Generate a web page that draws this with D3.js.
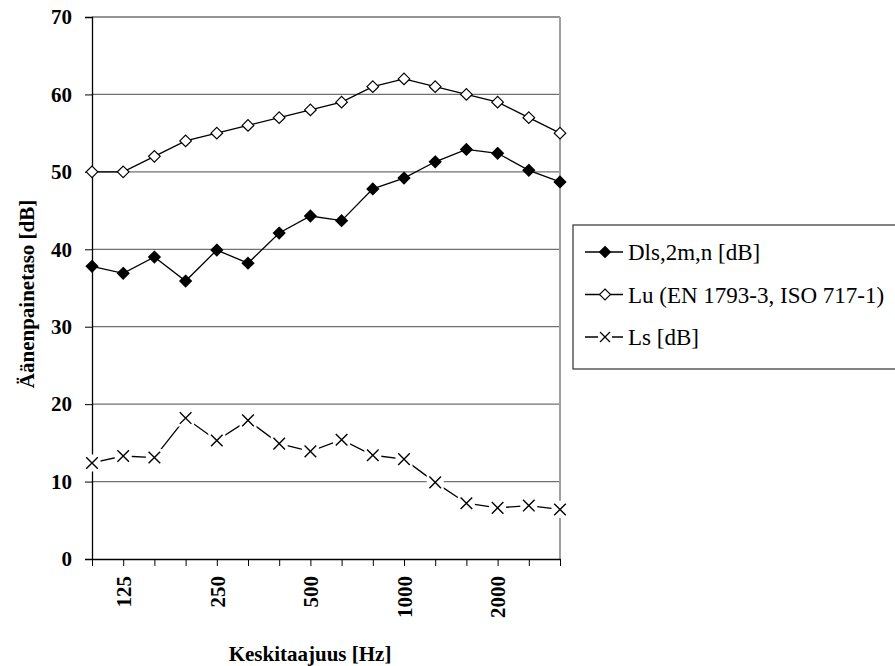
<!DOCTYPE html>
<html>
<head>
<meta charset="utf-8">
<script src="https://cdn.jsdelivr.net/npm/d3@7"></script>
<style>
  body { margin: 0; background: #fff; }
  text { font-family: "Liberation Serif", "Times New Roman", serif; }
</style>
</head>
<body>
<div id="svg-container"></div>
<script>
// data
const freqs = ['100', '125', '160', '200', '250', '315', '400', '500', '630', '800', '1000', '1250', '1600', '2000', '2500', '3150']
const tickLabels = ['125', '250', '500', '1000', '2000']
const dls = [37.8, 36.9, 39.0, 35.9, 39.9, 38.2, 42.1, 44.3, 43.7, 47.8, 49.2, 51.3, 52.9, 52.4, 50.2, 48.7]
const lu = [50, 50, 52, 54, 55, 56, 57, 58, 59, 61, 62, 61, 60, 59, 57, 55]
const ls = [12.4, 13.3, 13.1, 18.2, 15.3, 17.9, 14.9, 13.9, 15.4, 13.4, 12.9, 9.9, 7.2, 6.6, 6.9, 6.4]
const yTicks = [0, 10, 20, 30, 40, 50, 60, 70]
const seriesNames = ['Dls,2m,n [dB]', 'Lu (EN 1793-3, ISO 717-1)', 'Ls [dB]']

const serif = '"Liberation Serif", "Times New Roman", serif'

// dimensions
const dim = {
    width: 468,
    height: 542,
    margin: { top: 17, left: 92 }
}

const svg = d3.select("#svg-container")
    .append("svg")
        .attr("width", 895)
        .attr("height", 666)
        .attr('font-family', serif)

const g = svg.append('g')
    .attr("transform", `translate(${dim.margin.left}, ${dim.margin.top})`)

// scales
const xScale = d3.scalePoint()
    .domain(freqs)
    .range([0, dim.width])

const yScale = d3.scaleLinear()
    .domain([0, 70])
    .range([dim.height, 0])

// gridlines
g.append('g')
    .selectAll('line')
    .data(yTicks.filter(d => d > 0))
    .join('line')
        .attr('x1', 0)
        .attr('x2', dim.width)
        .attr('y1', d => yScale(d))
        .attr('y2', d => yScale(d))
        .attr('stroke', '#707070')
        .attr('stroke-width', 1.3)

// right border
g.append('line')
    .attr('x1', dim.width).attr('x2', dim.width)
    .attr('y1', 0).attr('y2', dim.height)
    .attr('stroke', '#a0a0a0')
    .attr('stroke-width', 2)

// axes
const yAxis = d3.axisLeft(yScale)
    .tickValues(yTicks)
    .tickSize(7)
    .tickPadding(13)

g.append('g')
    .call(yAxis)
    .attr('font-family', serif)
    .attr('font-size', 21)
    .attr('font-weight', 'bold')
    .call(a => a.select('.domain').attr('stroke-width', 1.3))
    .selectAll('text')
        .attr('fill', '#000')

const xAxis = d3.axisBottom(xScale)
    .tickSize(7)
    .tickSizeOuter(0)
    .tickFormat(d => tickLabels.includes(d) ? d : '')

g.append('g')
    .attr("transform", `translate(0, ${dim.height})`)
    .call(xAxis)
    .attr('font-family', serif)
    .attr('font-size', 21)
    .attr('font-weight', 'bold')
    .call(a => a.select('.domain').attr('stroke-width', 1.3))
    .selectAll('text')
        .attr('fill', '#000')
        .attr('transform', 'rotate(-90)')
        .attr('text-anchor', 'end')
        .attr('x', -17)
        .attr('y', 0)
        .attr('dy', '0.35em')

// axis titles
svg.append('text')
    .attr('transform', `translate(34, ${dim.margin.top + dim.height / 2 + 6}) rotate(-90)`)
    .attr('text-anchor', 'middle')
    .attr('font-family', serif)
    .attr('font-size', 21)
    .attr('font-weight', 'bold')
    .text('Äänenpainetaso [dB]')

svg.append('text')
    .attr('x', dim.margin.left + dim.width / 2 - 16)
    .attr('y', 661)
    .attr('text-anchor', 'middle')
    .attr('font-family', serif)
    .attr('font-size', 21)
    .attr('font-weight', 'bold')
    .text('Keskitaajuus [Hz]')

// markers
const diamond = (sel, fill) => sel
    .attr('d', 'M0,-5.8L5.8,0L0,5.8L-5.8,0Z')
    .attr('fill', fill)
    .attr('stroke', '#000')
    .attr('stroke-width', 1.2)

const cross = sel => {
    sel.append('rect')
        .attr('x', -8.5).attr('y', -8.5).attr('width', 17).attr('height', 17)
        .attr('fill', '#fff')
    sel.append('path')
        .attr('d', 'M-5.8,-5.8L5.8,5.8M-5.8,5.8L5.8,-5.8')
        .attr('stroke', '#000')
        .attr('stroke-width', 1.4)
}

const line = d3.line()
    .x((d, i) => xScale(freqs[i]))
    .y(d => yScale(d))

const series = [
    { values: dls, marker: 'filled' },
    { values: lu, marker: 'open' },
    { values: ls, marker: 'cross' }
]

series.forEach(s => {
    g.append('path')
        .datum(s.values)
        .attr('d', line)
        .attr('fill', 'none')
        .attr('stroke', '#000')
        .attr('stroke-width', 1.3)

    const pts = g.append('g')
        .selectAll('g')
        .data(s.values)
        .join('g')
            .attr('transform', (d, i) => `translate(${xScale(freqs[i])}, ${yScale(d)})`)

    if (s.marker === 'cross') cross(pts)
    else diamond(pts.append('path'), s.marker === 'filled' ? '#000' : '#fff')
})

// legend
const legend = svg.append('g')
    .attr('transform', 'translate(573, 225)')

legend.append('rect')
    .attr('width', 340)
    .attr('height', 144)
    .attr('fill', '#fff')
    .attr('stroke', '#404040')
    .attr('stroke-width', 1.3)

const rows = legend.selectAll('g')
    .data(seriesNames)
    .join('g')
        .attr('transform', (d, i) => `translate(0, ${27 + i * 42.5})`)

rows.append('line')
    .attr('x1', 12).attr('x2', 50)
    .attr('stroke', '#000')
    .attr('stroke-width', 1.3)

rows.each(function (d, i) {
    const r = d3.select(this).append('g').attr('transform', 'translate(32, 0)')
    if (i === 2) {
        r.append('rect').attr('x', -7).attr('y', -7).attr('width', 14).attr('height', 14).attr('fill', '#fff')
        r.append('path').attr('d', 'M-5,-5L5,5M-5,5L5,-5').attr('stroke', '#000').attr('stroke-width', 1.3)
    } else {
        r.append('path')
            .attr('d', 'M0,-5.5L5.5,0L0,5.5L-5.5,0Z')
            .attr('fill', i === 0 ? '#000' : '#fff')
            .attr('stroke', '#000')
            .attr('stroke-width', 1.1)
    }
})

rows.append('text')
    .attr('x', 55)
    .attr('dy', '0.35em')
    .attr('font-family', serif)
    .attr('font-size', 23)
    .text(d => d)
</script>
</body>
</html>
